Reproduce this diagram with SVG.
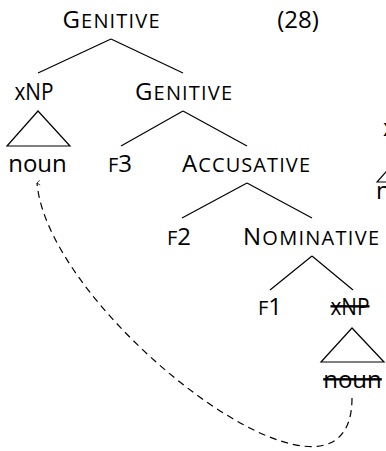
<svg xmlns="http://www.w3.org/2000/svg" width="386" height="451" viewBox="0 0 386 451">
<style>
text{font-family:"Open Sans","Noto Sans",sans-serif;font-size:24px;fill:#000;text-anchor:middle}
.sc{font-size:20px}
.st{text-decoration:line-through}
.l{stroke:#000;stroke-width:1.2;fill:none}
.tri{stroke:#000;stroke-width:1.2;fill:none;stroke-linejoin:miter}
.dash{stroke:#000;stroke-width:1.2;fill:none;stroke-dasharray:7 5}
</style>
<defs>
<marker id="arr" viewBox="0 0 10 10" refX="5" refY="1" markerWidth="6" markerHeight="6" orient="auto-start-reverse" markerUnits="userSpaceOnUse">
<path d="M1,6 L5,1 L9,6" fill="none" stroke="#000" stroke-width="1.2"/>
</marker>
</defs>
<g id="label-28"><text x="298" y="28">(28)</text></g>
<g id="n-genitive-top"><text x="111" y="28" textLength="97" lengthAdjust="spacing">G<tspan class="sc">ENITIVE</tspan></text></g>
<g id="n-xnp"><text x="34" y="100" textLength="39" lengthAdjust="spacingAndGlyphs">xNP</text><polygon class="tri" points="38,111 7,146 70,146"/></g>
<g id="n-noun"><text x="37.5" y="172">noun</text></g>
<g id="n-genitive-2"><text x="183.5" y="100" textLength="97" lengthAdjust="spacing">G<tspan class="sc">ENITIVE</tspan></text></g>
<g id="n-f3"><text x="120" y="172"><tspan class="sc">F</tspan>3</text></g>
<g id="n-accusative"><text x="246" y="172" textLength="128" lengthAdjust="spacing">A<tspan class="sc">CCUSATIVE</tspan></text></g>
<g id="n-f2"><text x="179" y="245"><tspan class="sc">F</tspan>2</text></g>
<g id="n-nominative"><text x="311" y="245" textLength="136" lengthAdjust="spacing">N<tspan class="sc">OMINATIVE</tspan></text></g>
<g id="n-f1"><text x="270" y="315"><tspan class="sc">F</tspan>1</text></g>
<g id="n-xnp-copy"><text class="st" x="350" y="315" textLength="39" lengthAdjust="spacingAndGlyphs">xNP</text><polygon class="tri" points="352,328 321,362 384,362"/></g>
<g id="n-noun-copy"><text class="st" x="352.5" y="388">noun</text></g>
<g id="n-fragment"><text x="383" y="136" style="text-anchor:start">xNP</text><polygon class="tri" points="408,147 377,182 439,182"/><text x="376" y="199" style="text-anchor:start">noun</text></g>
<g id="connectors">
<line class="l" x1="111" y1="39" x2="38" y2="73"/>
<line class="l" x1="111" y1="39" x2="183" y2="73"/>
<line class="l" x1="183" y1="111" x2="121" y2="146"/>
<line class="l" x1="183" y1="111" x2="247" y2="146"/>
<line class="l" x1="247" y1="183" x2="182" y2="218"/>
<line class="l" x1="247" y1="183" x2="312" y2="218"/>
<line class="l" x1="312" y1="256" x2="270" y2="290"/>
<line class="l" x1="312" y1="256" x2="353" y2="290"/>
<path class="dash" d="M352,398 C352,548 48,315 37,183" marker-end="url(#arr)"/>
</g>
</svg>
